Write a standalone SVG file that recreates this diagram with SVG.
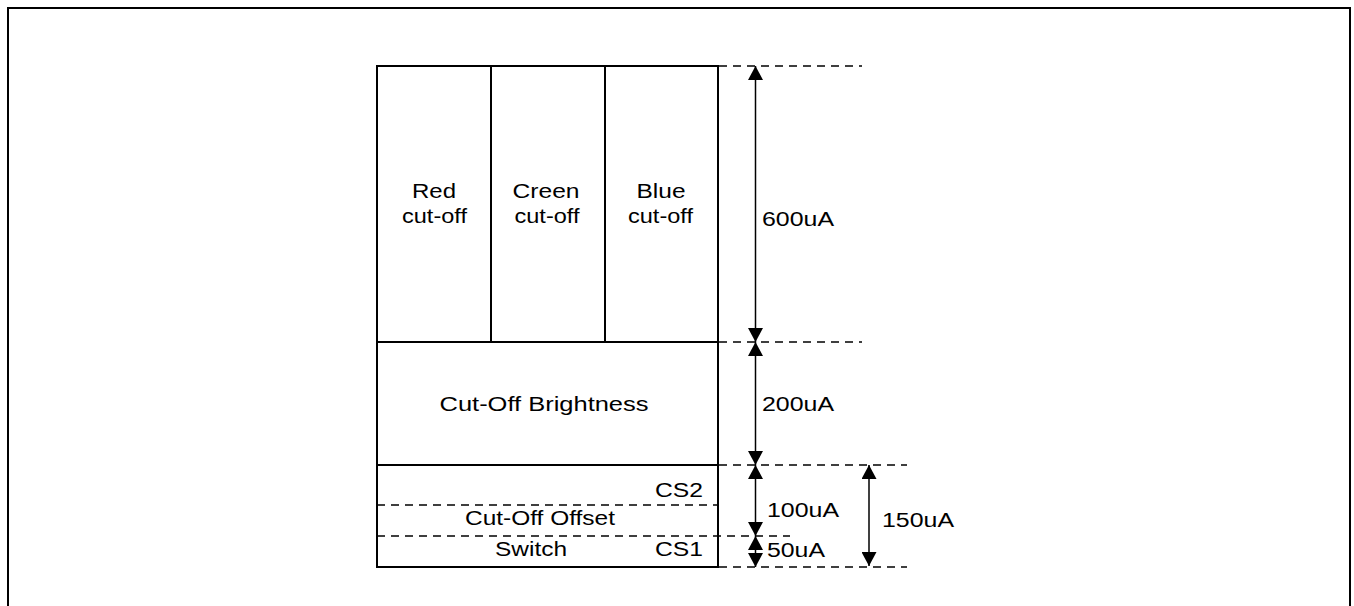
<svg xmlns="http://www.w3.org/2000/svg" width="1354" height="606" viewBox="0 0 1354 606">
<style>
.solid{fill:none;stroke:#000;stroke-width:2}
.dash{fill:none;stroke:#000;stroke-width:1.5;stroke-dasharray:8 6}
.dim{fill:none;stroke:#000;stroke-width:1.5;marker-start:url(#ah);marker-end:url(#ah)}
text{font-family:"Liberation Sans",Arial,sans-serif;font-size:20px;fill:#000}
.m{text-anchor:middle}
</style>
<defs>
<marker id="ah" viewBox="0 0 14 15" refX="14" refY="7.5" markerWidth="14" markerHeight="15" markerUnits="userSpaceOnUse" orient="auto-start-reverse">
<path d="M0,0 L14,7.5 L0,15 z" fill="#000"/>
</marker>
</defs>
<rect x="0" y="0" width="1354" height="606" fill="#fff"/>
<path class="solid" d="M8,620 V8 H1350 V620"/>
<g id="red">
<rect class="solid" x="377" y="66" width="114" height="276"/>
<text class="m" x="434" y="198" textLength="44" lengthAdjust="spacingAndGlyphs">Red</text>
<text class="m" x="434.5" y="223" textLength="65" lengthAdjust="spacingAndGlyphs">cut-off</text>
</g>
<g id="green">
<rect class="solid" x="491" y="66" width="114" height="276"/>
<text class="m" x="546" y="198" textLength="67" lengthAdjust="spacingAndGlyphs">Creen</text>
<text class="m" x="547" y="223" textLength="65" lengthAdjust="spacingAndGlyphs">cut-off</text>
</g>
<g id="blue">
<rect class="solid" x="605" y="66" width="113" height="276"/>
<text class="m" x="661" y="198" textLength="49" lengthAdjust="spacingAndGlyphs">Blue</text>
<text class="m" x="660.5" y="223" textLength="65" lengthAdjust="spacingAndGlyphs">cut-off</text>
</g>
<g id="brightness">
<rect class="solid" x="377" y="342" width="341" height="123"/>
<text class="m" x="544" y="411" textLength="209" lengthAdjust="spacingAndGlyphs">Cut-Off Brightness</text>
</g>
<g id="offset">
<rect class="solid" x="377" y="465" width="341" height="102"/>
<line class="dash" x1="377" y1="505" x2="718" y2="505"/>
<line class="dash" x1="377" y1="536" x2="790" y2="536"/>
<text x="655" y="497" textLength="48" lengthAdjust="spacingAndGlyphs">CS2</text>
<text class="m" x="540" y="525" textLength="150" lengthAdjust="spacingAndGlyphs">Cut-Off Offset</text>
<text class="m" x="531" y="556" textLength="72" lengthAdjust="spacingAndGlyphs">Switch</text>
<text x="655" y="556" textLength="48" lengthAdjust="spacingAndGlyphs">CS1</text>
</g>
<g id="connectors">
<line class="dash" x1="719" y1="66" x2="862" y2="66"/>
<line class="dash" x1="719" y1="342" x2="862" y2="342"/>
<line class="dash" x1="719" y1="465" x2="907" y2="465"/>
<line class="dash" x1="719" y1="567" x2="907" y2="567"/>
<line class="dim" x1="755.5" y1="66" x2="755.5" y2="342"/>
<line class="dim" x1="755.5" y1="342" x2="755.5" y2="465"/>
<line class="dim" x1="755.5" y1="465" x2="755.5" y2="536"/>
<line class="dim" x1="755.5" y1="536" x2="755.5" y2="567"/>
<line class="dim" x1="869" y1="465" x2="869" y2="566"/>
</g>
<g id="labels">
<text x="762" y="226" textLength="72" lengthAdjust="spacingAndGlyphs">600uA</text>
<text x="762" y="411" textLength="72" lengthAdjust="spacingAndGlyphs">200uA</text>
<text x="767" y="517" textLength="72" lengthAdjust="spacingAndGlyphs">100uA</text>
<text x="767" y="557" textLength="58" lengthAdjust="spacingAndGlyphs">50uA</text>
<text x="882" y="527" textLength="72" lengthAdjust="spacingAndGlyphs">150uA</text>
</g>
</svg>
